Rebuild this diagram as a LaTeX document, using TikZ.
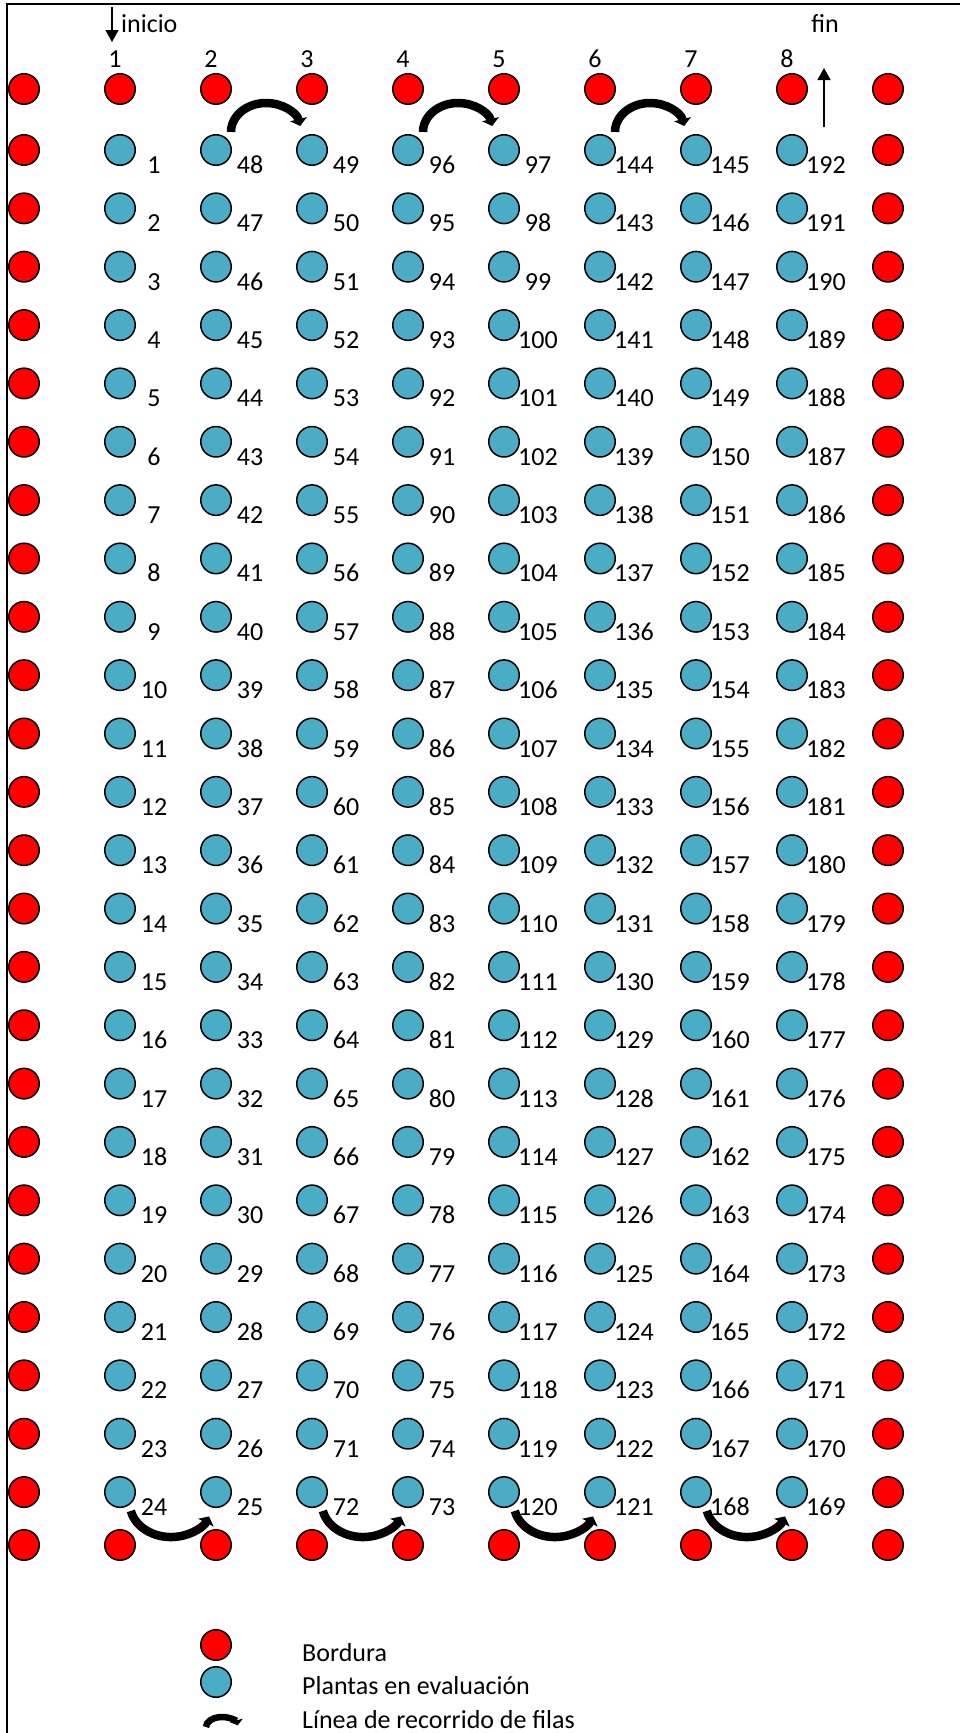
\documentclass[tikz,border=0pt]{standalone}
\usepackage{fontspec}
\setmainfont{Carlito}
\usetikzlibrary{arrows.meta,calc}
\definecolor{bord}{HTML}{FF0000}
\definecolor{plant}{HTML}{4BACC6}
\begin{document}
\begin{tikzpicture}[x=1pt,y=-1pt,
  dot/.style={circle,draw=black,line width=1.5pt,minimum size=30.5pt,inner sep=0pt},
  reddot/.style={dot,fill=bord},
  bluedot/.style={dot,fill=plant},
  lbl/.style={inner sep=0pt,anchor=base,font=\fontsize{26}{30}\selectfont},
  flow/.style={line width=8.5pt,-{Triangle[length=7pt,width=17pt]}},
  thinarrow/.style={line width=1.5pt,-{Triangle[length=12pt,width=13pt]}}]
\useasboundingbox (0,0) rectangle (960,1733);
\draw[line width=1.5pt] (7,1733) -- (7,4) -- (960,4);
% border plants
\foreach \c in {0,...,9}{
  \pgfmathsetmacro{\px}{24+96*\c}
  \node[reddot] (p\c-0) at (\px,89) {};
  \node[reddot] (p\c-25) at (\px,1545) {};
}
\foreach \r in {1,...,24}{
  \pgfmathsetmacro{\py}{150+58.35*(\r-1)}
  \node[reddot] (p0-\r) at (24,\py) {};
  \node[reddot] (p9-\r) at (888,\py) {};
}
% plants under evaluation
\foreach \c in {1,...,8}{
  \pgfmathsetmacro{\px}{24+96*\c}
  \node[lbl] (h\c) at (\px-5,67) {\c};
  \foreach \r in {1,...,24}{
    \pgfmathsetmacro{\py}{150+58.35*(\r-1)}
    \pgfmathtruncatemacro{\pn}{mod(\c,2)==1 ? 24*(\c-1)+\r : 24*\c-\r+1}
    \node[bluedot] (p\c-\r) at (\px,\py) {};
    \node[lbl] (n\c-\r) at (\px+34,\py+23.5) {\pn};
  }
}
% row path arrows
\foreach \c in {2,4,6}{
  \draw[flow] ($(p\c-1.center)+(50,-18)$) ++(180:35pt and 29pt)
    arc[start angle=180,end angle=12,x radius=35pt,y radius=29pt];
}
\foreach \c in {1,3,5,7}{
  \draw[flow] ($(p\c-24.center)+(51,12)$) ++(192:41pt and 33pt)
    arc[start angle=192,end angle=338,x radius=41pt,y radius=33pt];
}
% start / end
\coordinate (iniA) at (112,7);
\coordinate (iniB) at (112,42);
\draw[thinarrow] (iniA) -- (iniB);
\node[lbl,anchor=base west] (ini) at (121,32.7) {inicio};
\coordinate (finA) at (824,127);
\coordinate (finB) at (824,68);
\draw[thinarrow] (finA) -- (finB);
\node[lbl] (fin) at (825,32.7) {fin};
% legend
\node[reddot] (lr) at (216,1645) {};
\node[bluedot] (lb) at (216,1682) {};
\coordinate (la) at (206,1727);
\draw[line width=6.5pt,-{Triangle[length=5pt,width=13pt]}] (la)
  arc[start angle=180,end angle=10,x radius=16pt,y radius=10pt];
\node[lbl,anchor=base west] (t1) at (302,1661) {Bordura};
\node[lbl,anchor=base west] (t2) at (302,1694) {Plantas en evaluación};
\node[lbl,anchor=base west] (t3) at (302,1728) {Línea de recorrido de filas};
\end{tikzpicture}
\end{document}
